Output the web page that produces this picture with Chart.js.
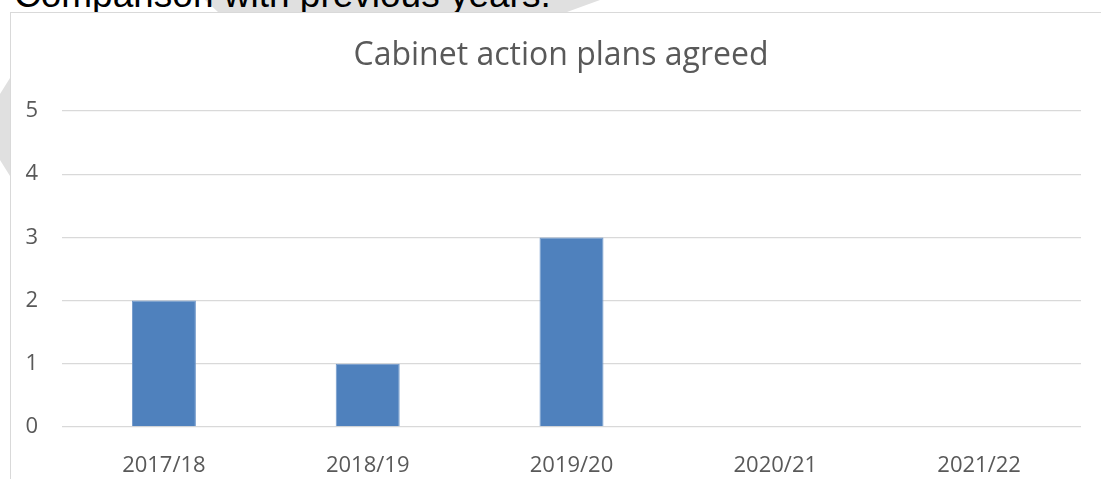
<!DOCTYPE html>
<html>
<head>
<meta charset="utf-8">
<script src="https://cdn.jsdelivr.net/npm/chart.js@4.4.1/dist/chart.umd.min.js"></script>
<style>
  html, body { margin: 0; padding: 0; background: #fff; overflow: hidden; }
  body { width: 1101px; height: 479px; position: relative; overflow: hidden; }
  .forma { position: absolute; background: #e0e0e0; }
  #formaTop { left: 0; top: 0; width: 1101px; height: 12px; clip-path: polygon(205px 0, 600px 0, 567px 12px, 218px 12px); }
  #formaIzq { left: 0; top: 78px; width: 10px; height: 100px; clip-path: polygon(10px 0, 0 16px, 0 82px, 10px 98px); }
  #encabezado { position: absolute; left: 14px; top: -25px; font-family: "Liberation Sans", Arial, sans-serif; font-size: 37px; color: #000; white-space: nowrap; line-height: 40px; }
  #marco { position: absolute; left: 10px; top: 12px; width: 1120px; height: 480px; background: #fff; border-top: 1px solid #d9d9d9; border-left: 1px solid #d9d9d9; }
  #contenedor { position: absolute; left: 0; top: 0; width: 1100px; height: 466px; }
</style>
</head>
<body>
<div class="forma" id="formaTop"></div>
<div class="forma" id="formaIzq"></div>
<div id="encabezado">Comparison with previous years.</div>
<div id="marco">
  <div id="contenedor"><canvas id="chartPlanes"></canvas></div>
</div>
<script>
const anios = ['2017/18', '2018/19', '2019/20', '2020/21', '2021/22'];
const planesAcordados = [2, 1, 3, 0, 0];
const titulo = 'Cabinet action plans agreed';

const colorTexto = '#595959';
const fuente = '"Open Sans", sans-serif';

new Chart(document.getElementById('chartPlanes'), {
  type: 'bar',
  data: {
    labels: anios,
    datasets: [{
      label: titulo,
      data: planesAcordados,
      backgroundColor: '#4f81bd',
      borderColor: '#6f97c9',
      borderWidth: 1,
      barPercentage: 1,
      categoryPercentage: 0.314
    }]
  },
  options: {
    responsive: true,
    maintainAspectRatio: false,
    animation: false,
    layout: { padding: 0 },
    plugins: {
      legend: { display: false },
      tooltip: { enabled: false },
      title: {
        display: true,
        text: titulo,
        color: colorTexto,
        font: { family: fuente, size: 32, weight: 'normal' },
        padding: { top: 24, bottom: 35.6 }
      }
    },
    scales: {
      y: {
        min: 0,
        max: 5,
        ticks: { stepSize: 1, color: colorTexto, font: { family: fuente, size: 22 }, padding: 24 },
        grid: { color: '#d9d9d9', lineWidth: 1.3, drawTicks: false },
        border: { display: false },
        afterFit: (escala) => { escala.width = 51; }
      },
      // eje vacío a la derecha, solo para dejar margen sin descentrar el título
      margen: {
        position: 'right',
        min: 0,
        max: 5,
        ticks: { display: false },
        grid: { display: false },
        border: { display: false },
        afterFit: (escala) => { escala.width = 30; }
      },
      x: {
        ticks: { color: colorTexto, font: { family: fuente, size: 22 }, padding: 18, maxRotation: 0 },
        grid: { display: false },
        border: { display: false },
        afterFit: (escala) => { escala.height = 52; }
      }
    }
  }
});
</script>
</body>
</html>
